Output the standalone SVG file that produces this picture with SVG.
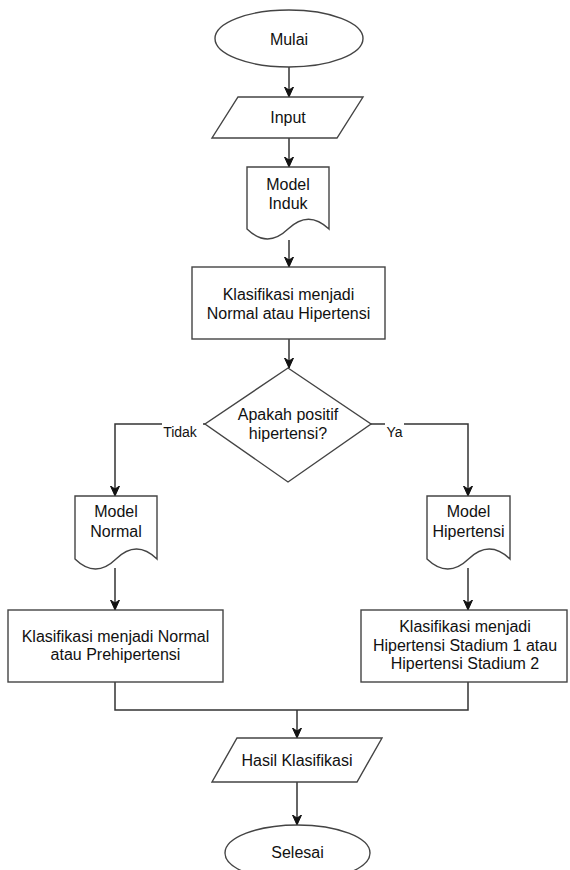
<svg xmlns="http://www.w3.org/2000/svg" width="570" height="870" viewBox="0 0 570 870">
<defs>
<marker id="arr" markerUnits="userSpaceOnUse" markerWidth="12" markerHeight="10" refX="10" refY="4.5" orient="auto">
<path d="M0,0 L10,4.5 L0,9 L3,4.5 Z" fill="#111" stroke="#111" stroke-width="1"/>
</marker>
</defs>
<style>
.shape{fill:#fff;stroke:#444;stroke-width:1.4}
.t{font-family:"Liberation Sans",Arial,sans-serif;font-size:16px;fill:#111;text-anchor:middle}
.lbl{font-family:"Liberation Sans",Arial,sans-serif;font-size:14px;fill:#111;text-anchor:middle}
.edge{fill:none;stroke:#333;stroke-width:1.5}
</style>
<rect width="570" height="870" fill="#fff"/>
<g id="connectors">
<path class="edge" d="M289,67 V97" marker-end="url(#arr)"/>
<path class="edge" d="M289,138 V167" marker-end="url(#arr)"/>
<path class="edge" d="M289,240 V267" marker-end="url(#arr)"/>
<path class="edge" d="M289,339 V368" marker-end="url(#arr)"/>
<path class="edge" d="M206,424 H115 V496" marker-end="url(#arr)"/>
<path class="edge" d="M371,424 H468 V496" marker-end="url(#arr)"/>
<path class="edge" d="M115,568 V610" marker-end="url(#arr)"/>
<path class="edge" d="M468,568 V610" marker-end="url(#arr)"/>
<path class="edge" d="M115,682 V710 H468 V682"/>
<path class="edge" d="M297,710 V738" marker-end="url(#arr)"/>
<path class="edge" d="M297,782 V825" marker-end="url(#arr)"/>
<rect x="162" y="423" width="41" height="17" fill="#fff"/>
<text class="lbl" x="180" y="437">Tidak</text>
<rect x="385" y="423" width="19" height="17" fill="#fff"/>
<text class="lbl" x="394.5" y="437">Ya</text>
</g>
<g id="mulai">
<ellipse class="shape" cx="289" cy="38.5" rx="74" ry="28.5"/>
<text class="t" x="289" y="45">Mulai</text>
</g>
<g id="input">
<path class="shape" d="M238,97 L363,97 L337,138 L212,138 Z"/>
<text class="t" x="288" y="123">Input</text>
</g>
<g id="model-induk">
<path class="shape" d="M247,167 H329 V229 Q308.5,209.3 288,229 Q267.5,248.8 247,229 Z"/>
<text class="t" x="288" y="190">Model</text>
<text class="t" x="288" y="209">Induk</text>
</g>
<g id="klasifikasi-1">
<rect class="shape" x="192" y="267" width="193" height="72"/>
<text class="t" x="288.5" y="300">Klasifikasi menjadi</text>
<text class="t" x="288.5" y="318.5">Normal atau Hipertensi</text>
</g>
<g id="decision">
<path class="shape" d="M288,368 L371,424 L288,482 L205,424 Z"/>
<text class="t" x="288" y="420">Apakah positif</text>
<text class="t" x="288" y="439">hipertensi?</text>
</g>
<g id="model-normal">
<path class="shape" d="M75,496 H157 V559 Q136.5,539 116,559 Q95.5,579 75,559 Z"/>
<text class="t" x="116" y="517">Model</text>
<text class="t" x="116" y="537">Normal</text>
</g>
<g id="model-hipertensi">
<path class="shape" d="M427,496 H510 V559 Q489.25,539 468.5,559 Q447.75,579 427,559 Z"/>
<text class="t" x="468.5" y="517">Model</text>
<text class="t" x="468.5" y="537">Hipertensi</text>
</g>
<g id="klasifikasi-normal">
<rect class="shape" x="8" y="610" width="215" height="72"/>
<text class="t" x="115.5" y="642">Klasifikasi menjadi Normal</text>
<text class="t" x="115.5" y="660">atau Prehipertensi</text>
</g>
<g id="klasifikasi-hipertensi">
<rect class="shape" x="361" y="610" width="206" height="72"/>
<text class="t" x="465" y="632">Klasifikasi menjadi</text>
<text class="t" x="465" y="651">Hipertensi Stadium 1 atau</text>
<text class="t" x="465" y="669">Hipertensi Stadium 2</text>
</g>
<g id="hasil">
<path class="shape" d="M237,738 L382,738 L357,782 L212,782 Z"/>
<text class="t" x="297" y="766">Hasil Klasifikasi</text>
</g>
<g id="selesai">
<ellipse class="shape" cx="297.5" cy="853" rx="72.5" ry="28"/>
<text class="t" x="297.5" y="858">Selesai</text>
</g>
</svg>
